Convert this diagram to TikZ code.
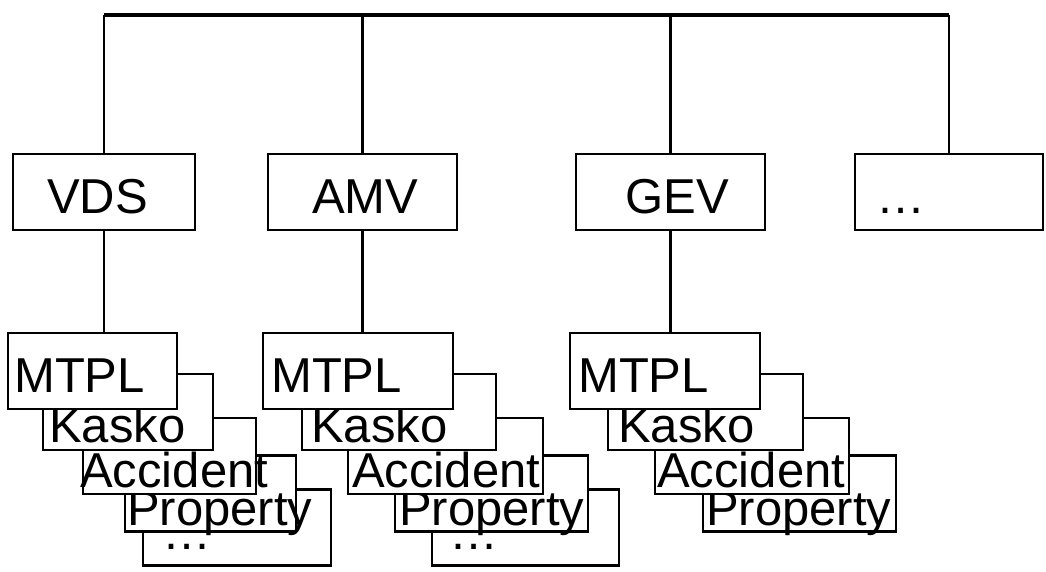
\documentclass[tikz,border=0pt]{standalone}
\usepackage{fontspec}
\setmainfont{Liberation Sans}

\begin{document}
\begin{tikzpicture}[x=1pt,y=-1pt,
    box/.style={draw,fill=white,line width=2.8pt,inner sep=0pt,minimum height=76pt},
    tag/.style={anchor=base west,inner sep=0pt,font=\fontsize{49}{56}\selectfont},
    link/.style={line width=2.8pt}]
    \useasboundingbox (0,0) rectangle (1046,572);

    % The associations in the upper row.
    \node[box,minimum width=182pt] (vds)  at (104,192)   {};
    \node[box,minimum width=189pt] (amv)  at (362.5,192) {};
    \node[box,minimum width=189pt] (gev)  at (670.5,192) {};
    \node[box,minimum width=188pt] (more) at (949,192)   {};
    \node[tag] (vdstext)  at (47,213)    {VDS};
    \node[tag] (amvtext)  at (312,213)   {AMV};
    \node[tag] (gevtext)  at (625.5,213) {GEV};
    \node[tag] (moretext) at (876,213.5) {…};

    % The common bus above them.
    \coordinate (bus) at (0,15);
    \draw[link,line width=3.5pt] (vds.north |- bus) -- (more.north |- bus);
    \foreach \n in {vds,amv,gev,more}
      \draw[link] (\n.north) -- (\n.north |- bus);

    % The stack of lines below VDS, drawn from the back.
    \node[box,minimum width=188pt] (vdsmore) at (237,527.5) {};
    \node[tag] (vdsmoretext) at (162,549.5) {…};
    \node[box,minimum width=171pt] (vdsprop) at (210.5,493.5) {};
    \node[tag] (vdsproptext) at (127,525) {Property};
    \node[box,minimum width=173pt] (vdsacc) at (169.5,456) {};
    \node[tag] (vdsacctext) at (80,487) {Accident};
    \node[box,minimum width=170pt] (vdskasko) at (128,412) {};
    \node[tag] (vdskaskotext) at (49,442) {Kasko};
    \node[box,minimum width=169pt] (vdsmtpl) at (92.5,371) {};
    \node[tag] (vdsmtpltext) at (14,392) {MTPL};
    \draw[link] (vds.south) -- (vds.south |- vdsmtpl.north);

    % The stack of lines below AMV.
    \node[box,minimum width=187pt] (amvmore) at (525.5,527.5) {};
    \node[tag] (amvmoretext) at (449,549.5) {…};
    \node[box,minimum width=193pt] (amvprop) at (491.5,493.5) {};
    \node[tag] (amvproptext) at (399,525) {Property};
    \node[box,minimum width=195pt] (amvacc) at (445.5,456) {};
    \node[tag] (amvacctext) at (352,487) {Accident};
    \node[box,minimum width=194pt] (amvkasko) at (399,412) {};
    \node[tag] (amvkaskotext) at (311,442) {Kasko};
    \node[box,minimum width=190pt] (amvmtpl) at (358,371) {};
    \node[tag] (amvmtpltext) at (271,392) {MTPL};
    \draw[link] (amv.south) -- (amv.south |- amvmtpl.north);

    % The stack of lines below GEV, with no further box.
    \node[box,minimum width=193pt] (gevprop) at (799.5,493.5) {};
    \node[tag] (gevproptext) at (706,525) {Property};
    \node[box,minimum width=194pt] (gevacc) at (752,456) {};
    \node[tag] (gevacctext) at (657,487) {Accident};
    \node[box,minimum width=195pt] (gevkasko) at (705.5,412) {};
    \node[tag] (gevkaskotext) at (618,442) {Kasko};
    \node[box,minimum width=190pt] (gevmtpl) at (665,371) {};
    \node[tag] (gevmtpltext) at (578,392) {MTPL};
    \draw[link] (gev.south) -- (gev.south |- gevmtpl.north);
  \end{tikzpicture}
\end{document}
